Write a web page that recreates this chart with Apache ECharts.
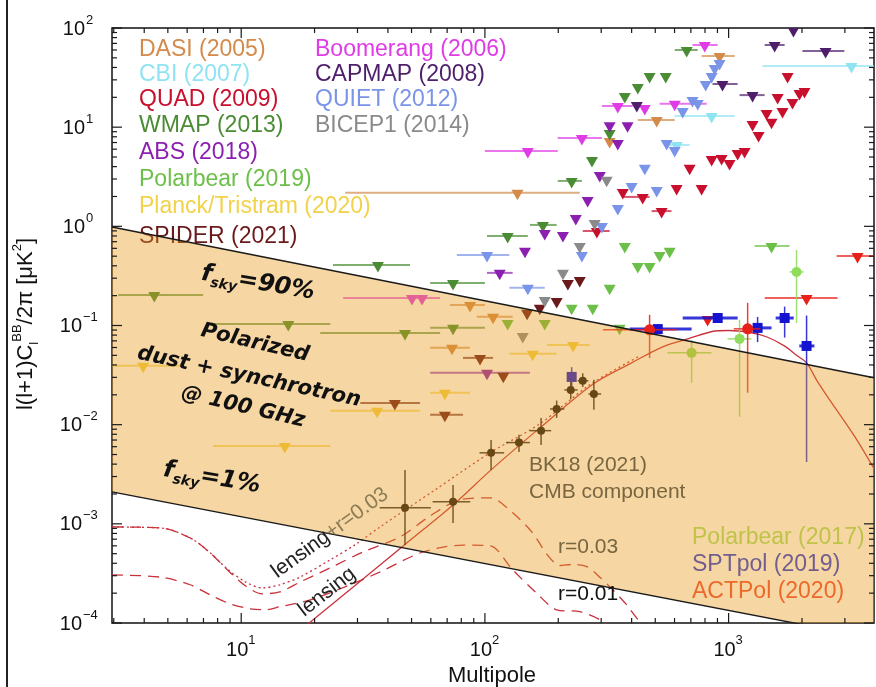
<!DOCTYPE html>
<html><head><meta charset="utf-8">
<script src="https://cdn.jsdelivr.net/npm/echarts@6/dist/echarts.min.js"></script>
<style>html,body{margin:0;padding:0;background:#fff}#c{width:876px;height:687px}</style>
</head><body><div id="c"></div>
<script>
// ---------------- axes ----------------
const X_MIN = 2.95, X_MAX = 3950, Y_MIN = 1e-4, Y_MAX = 100;
const xMajorTicks = [10, 100, 1000];
const xTickExp = ['1', '2', '3'];
const yMajorTicks = [1e-4, 1e-3, 1e-2, 1e-1, 1, 10, 100];
const yTickExp = ['\u22124', '\u22123', '\u22122', '\u22121', '0', '1', '2'];

// ---------------- foreground band (dust + synchrotron @100 GHz) ----------------
const bandEll = [2.95, 3950];
const bandUpper = [0.986, 0.0297];   // fsky = 90%
const bandLower = [0.0021, 0.00007]; // fsky = 1%

// ---------------- theory curves ----------------
const lensEll = [15, 19, 30, 47, 74, 106, 170, 280, 400, 536, 690, 856, 1000, 1222, 1430, 1700, 1900, 2090, 2300, 2590, 3280, 3950];
const lensVal = [6.2e-5, 1.0e-4, 2.5e-4, 6.2e-4, 1.55e-3, 3.5e-3, 9.5e-3, 0.026, 0.042, 0.061, 0.074, 0.087, 0.089, 0.085, 0.077, 0.062, 0.05, 0.042, 0.028, 0.018, 0.0077, 0.0036];

const lensR03Ell = [2.95, 4.66, 6.18, 7.46, 8.77, 10.4, 12.2, 14.4, 17.5, 23.2, 29.3, 37.2, 62.4, 105, 168, 269, 432];
const lensR03Val = [9.3e-4, 9.1e-4, 7.2e-4, 5.1e-4, 3.5e-4, 2.6e-4, 2.26e-4, 2.43e-4, 2.92e-4, 4.34e-4, 6.14e-4, 9.33e-4, 2.2e-3, 5.2e-3, 0.0102, 0.0252, 0.0494];

const r03Ell = [2.95, 4.66, 6.18, 7.46, 8.77, 10.4, 12.2, 14.4, 17.5, 23.2, 31.6, 44.9, 59.6, 79.1, 105, 130, 157, 180, 203, 230, 262, 296, 335, 382, 432, 521];
const r03Val = [9.3e-4, 9.1e-4, 7.2e-4, 5.1e-4, 3.44e-4, 2.37e-4, 1.97e-4, 2.06e-4, 2.6e-4, 3.6e-4, 5.2e-4, 7.4e-4, 1.2e-3, 1.75e-3, 1.83e-3, 1.29e-3, 8.1e-4, 4.9e-4, 3.8e-4, 3.9e-4, 3.7e-4, 2.9e-4, 2.16e-4, 1.52e-4, 1.03e-4, 6.8e-5];

const r01Ell = [2.95, 4.66, 6.18, 7.46, 9.02, 10.9, 12.5, 14.4, 19.2, 28.0, 37.2, 55.7, 81.3, 105, 130, 163, 197, 245, 296, 341];
const r01Val = [3.06e-4, 2.9e-4, 2.43e-4, 1.92e-4, 1.56e-4, 1.39e-4, 1.36e-4, 1.46e-4, 1.71e-4, 2.43e-4, 3.28e-4, 5.2e-4, 6.1e-4, 6.0e-4, 3.44e-4, 2.0e-4, 1.36e-4, 1.3e-4, 1.08e-4, 8.1e-5];

// ---------------- upper limits: [ell, value, ellLow, ellHigh] ----------------
const DASI = [[918, 49.9, 775, 1060], [507, 11.3, 424, 601], [136, 2.08, 26.7, 245], [325, 6.93], [86.9, 0.154, 71.9, 100], [108, 0.117, 92.6, 130], [73.3, 0.0568, 59.6, 86.9]];
const CBI = [[3193, 39.5, 1377, 4000], [852, 12.4, 601, 1060], [612, 6.31, 547, 692]];
const QUAD = [[1746, 31.3], [1589, 19.2], [1432, 13.3], [1254, 10.3], [1327, 7.96], [1954, 21.1], [2048, 22.1], [1829, 17.1], [1664, 13.9], [1500, 10.8], [1163, 5.5], [1089, 5.25], [1009, 4.16], [936, 4.67], [852, 4.56], [692, 3.71], [612, 2.33], [775, 2.33], [444, 1.89, 368, 474], [368, 2.12], [531, 1.36, 483, 583], [288, 0.857, 252, 325]];
const WMAP = [[673, 57.3, 601, 747], [474, 31.3], [552, 31.3], [424, 24.3], [375, 19.7], [325, 8.34], [275, 4.46], [227, 2.74, 199, 250], [173, 0.986, 153, 197], [124, 0.764, 102, 150], [36.4, 0.39, 23.8, 49.3], [74.0, 0.256, 59.6, 100], [4.40, 0.194, 3.13, 6.98], [15.6, 0.099, 7.67, 23.2], [47.0, 0.0804, 21.1, 65.5], [74.0, 0.0904, 59.6, 100]];
const ABS = [[325, 10.0], [385, 10.0], [351, 6.62], [296, 3.15], [264, 1.76], [236, 1.16], [176, 0.819], [209, 0.782], [146, 0.54], [115, 0.324, 102, 130], [102, 0.0318, 59.6, 153]];
const POLARBEAR19 = [[375, 0.605], [521, 0.492], [573, 0.54], [424, 0.381], [474, 0.381], [325, 0.229], [227, 0.144], [277, 0.144], [1500, 0.605, 1278, 1778], [124, 0.101], [176, 0.101], [357, 0.0904]];
const PLANCK = [[3.96, 0.0374, 2.96, 5.62], [36.1, 0.0132, 23.2, 54.2], [15.1, 5.83e-3, 7.67, 23.2], [230, 0.0608, 180, 269], [157, 0.0494, 126, 197], [68.5, 0.020, 59.6, 86.9]];
const SPIDER = [[219, 0.256], [245, 0.275], [197, 0.169], [168, 0.144], [149, 0.128], [95.5, 0.045, 81.3, 108], [119, 0.0297], [68.5, 0.012, 59.6, 81.3], [42.7, 0.0158, 30.8, 54.2]];
const BOOMERANG = [[798, 64.3, 711, 902], [601, 16.4, 521, 813], [453, 14.9], [351, 15.6, 302, 404], [250, 7.43, 199, 302], [150, 5.5, 100, 199], [50.2, 0.181, 26.2, 65.5], [55.2, 0.181]];
const CAPMAP = [[1845, 91.1], [1545, 64.3, 1406, 1698], [2500, 56.0, 2009, 2985], [944, 26.0, 859, 1089], [1254, 20.1, 1109, 1406], [420, 16.0]];
const QUIET = [[918, 42.4], [877, 37.8], [852, 31.3], [805, 26.0], [711, 17.9], [747, 16.7], [648, 13.9], [557, 6.62], [601, 5.62], [453, 3.71], [400, 2.44], [507, 2.22], [351, 1.46], [302, 0.964], [250, 0.492], [102, 0.492, 76.7, 126], [150, 0.229, 126, 176]];
const BICEP1 = [[316, 2.81], [282, 1.03], [245, 0.605], [209, 0.324], [176, 0.173], [143, 0.075]];
const ACTPOL_LIM = [[3381, 0.48, 2773, 4000], [2089, 0.181, 1406, 2800], [820, 0.111]];

// ---------------- detections: [ell, value, ellLow, ellHigh, valLow, valHigh] ----------------
const BK18 = [[47, 1.45e-3, 37, 60, 6.1e-4, 3.5e-3], [74, 1.67e-3, 61, 87, 1.02e-3, 2.47e-3], [106, 5.2e-3, 95, 120, 3.5e-3, 7.0e-3], [138, 6.6e-3, 122, 153, 5.3e-3, 7.9e-3], [170, 8.7e-3, 153, 187, 6.25e-3, 0.0117], [197, 0.0144, 185, 212, 0.0117, 0.0175], [225, 0.0224, 212, 240, 0.018, 0.027], [252, 0.0277, 240, 266, 0.024, 0.033], [280, 0.0204, 266, 300, 0.0141, 0.0283]];
const SPTPOL = [[512, 0.092, 393, 705, 0.082, 0.103], [902, 0.119, 648, 1089, 0.107, 0.132], [1315, 0.0946, 1170, 1500, 0.068, 0.122], [1698, 0.119, 1560, 1850, 0.0755, 0.155], [2089, 0.0622, 1950, 2250, 0.0042, 0.126], [227, 0.0303, null, null, 0.024, 0.038]];
const ACTPOL = [[474, 0.0904, 305, 612, 0.047, 0.128], [1197, 0.0925, 1050, 1350, 0.021, 0.169]];
const POLARBEAR17 = [[1900, 0.347, 1780, 2030, 0.106, 0.578], [1109, 0.0733, 990, 1240, 0.012, 0.114], [705, 0.053, 560, 850, 0.0264, 0.0714]];

// ---------------- styling ----------------
const FONT = '"Liberation Sans", Arial, Helvetica, sans-serif';
const HAND = '"DejaVu Sans", sans-serif';
const C = {
  DASI: '#d38a4a', CBI: '#8fe3f2', QUAD: '#c8102e', WMAP: '#4a8c34', ABS: '#8b1fb0',
  PB19: '#6cc04a', PLANCK: '#f2d24a', SPIDER: '#6a1a1a', BOOM: '#e03ce6', CAPMAP: '#4e1e6a',
  QUIET: '#7a94e8', BICEP1: '#8a8a8a', ACT: '#e8201a', SPT: '#1414d0', PB17: '#8edc5a', BK: '#111111'
};

const zip = (a, b) => a.map((v, i) => [v, b[i]]);
const ok = v => v != null && isFinite(v) && v > 0;

function limitSeries(rows, color) {
  return {
    type: 'custom', coordinateSystem: 'cartesian2d', clip: true, z: 2,
    data: rows.map(r => [r[0], r[1], r[2] == null ? null : r[2], r[3] == null ? null : r[3]]),
    encode: { x: 0, y: 1 },
    renderItem: (params, api) => {
      const x = api.value(0), y = api.value(1), lo = api.value(2), hi = api.value(3);
      const p = api.coord([x, y]);
      const ch = [];
      if (ok(lo) && ok(hi)) {
        const a = api.coord([lo, y]), b = api.coord([hi, y]);
        ch.push({ type: 'line', shape: { x1: a[0], y1: p[1] - 2, x2: b[0], y2: p[1] - 2 }, style: { stroke: color, lineWidth: 2, opacity: 0.7 } });
      }
      ch.push({ type: 'polygon', shape: { points: [[p[0] - 6, p[1] - 5], [p[0] + 6, p[1] - 5], [p[0], p[1] + 5.5]] }, style: { fill: color } });
      return { type: 'group', children: ch };
    }
  };
}

function detectSeries(rows, color, shape, size, barW) {
  return {
    type: 'custom', coordinateSystem: 'cartesian2d', clip: true, z: 3,
    data: rows.map(r => [r[0], r[1], r[2], r[3], r[4], r[5]]),
    encode: { x: 0, y: 1 },
    renderItem: (params, api) => {
      const x = api.value(0), y = api.value(1);
      const xl = api.value(2), xh = api.value(3), yl = api.value(4), yh = api.value(5);
      const p = api.coord([x, y]);
      const ch = [];
      if (ok(xl) && ok(xh)) {
        const a = api.coord([xl, y]), b = api.coord([xh, y]);
        ch.push({ type: 'line', shape: { x1: a[0], y1: p[1], x2: b[0], y2: p[1] }, style: { stroke: color, lineWidth: barW, opacity: 0.85 } });
      }
      if (ok(yl) && ok(yh)) {
        const a = api.coord([x, yl]), b = api.coord([x, yh]);
        ch.push({ type: 'line', shape: { x1: p[0], y1: a[1], x2: p[0], y2: b[1] }, style: { stroke: color, lineWidth: 1.5, opacity: 0.85 } });
      }
      if (shape === 'rect') ch.push({ type: 'rect', shape: { x: p[0] - size, y: p[1] - size, width: 2 * size, height: 2 * size }, style: { fill: color } });
      else ch.push({ type: 'circle', shape: { cx: p[0], cy: p[1], r: size }, style: { fill: color } });
      return { type: 'group', children: ch };
    }
  };
}

function curve(ell, val, color, type, width) {
  return {
    type: 'line', data: zip(ell, val), symbol: 'none', smooth: 0.3, z: 2, clip: true,
    lineStyle: { color: color, width: width, type: type }, silent: true
  };
}

// axis ticks + labels drawn with the axes' own coordinate mapping
const xMinor = [], yMinor = [];
[1, 10, 100, 1000].forEach(d => { for (let m = 2; m <= 9; m++) { const v = m * d; if (v > X_MIN && v < X_MAX) xMinor.push(v); } });
[1e-4, 1e-3, 1e-2, 1e-1, 1, 10].forEach(d => { for (let m = 2; m <= 9; m++) yMinor.push(m * d); });

const axesSeries = {
  type: 'custom', coordinateSystem: 'cartesian2d', clip: false, z: 30, silent: true,
  data: [[10, 1]],
  renderItem: (params, api) => {
    const ch = [];
    const yb = api.coord([X_MIN, Y_MIN])[1], yt = api.coord([X_MIN, Y_MAX])[1];
    const xl = api.coord([X_MIN, Y_MIN])[0], xr = api.coord([X_MAX, Y_MIN])[0];
    const st = { stroke: '#1a1a1a', lineWidth: 1.2 };
    const L = (x1, y1, x2, y2) => ch.push({ type: 'line', shape: { x1, y1, x2, y2 }, style: st });
    xMajorTicks.forEach((v, i) => {
      const x = api.coord([v, Y_MIN])[0];
      L(x, yb, x, yb - 10); L(x, yt, x, yt + 10);
      ch.push({ type: 'text', x: x - 4, y: yb + 27, style: { text: '10', fill: '#111', fontSize: 20, fontFamily: FONT, align: 'center', verticalAlign: 'middle' } });
      ch.push({ type: 'text', x: x + 7, y: yb + 17, style: { text: xTickExp[i], fill: '#111', fontSize: 13, fontFamily: FONT, align: 'left', verticalAlign: 'middle' } });
    });
    xMinor.forEach(v => { const x = api.coord([v, Y_MIN])[0]; L(x, yb, x, yb - 5); L(x, yt, x, yt + 5); });
    yMajorTicks.forEach((v, i) => {
      const y = api.coord([X_MIN, v])[1];
      L(xl, y, xl + 10, y); L(xr, y, xr - 10, y);
      const neg = yTickExp[i].length > 1;
      ch.push({ type: 'text', x: neg ? 82 : 85, y: y + 1, style: { text: '10', fill: '#111', fontSize: 20, fontFamily: FONT, align: 'right', verticalAlign: 'middle' } });
      ch.push({ type: 'text', x: neg ? 83 : 86, y: y - 8, style: { text: yTickExp[i], fill: '#111', fontSize: 13, fontFamily: FONT, align: 'left', verticalAlign: 'middle' } });
    });
    yMinor.forEach(v => { const y = api.coord([X_MIN, v])[1]; L(xl, y, xl + 5, y); L(xr, y, xr - 5, y); });
    return { type: 'group', children: ch };
  }
};

const bandSeries = {
  type: 'custom', coordinateSystem: 'cartesian2d', clip: true, z: 6, silent: true,
  data: [[bandEll[0], bandUpper[0]]],
  renderItem: (params, api) => {
    const pts = [
      api.coord([bandEll[0], bandUpper[0]]), api.coord([bandEll[1], bandUpper[1]]),
      api.coord([bandEll[1], bandLower[1]]), api.coord([bandEll[0], bandLower[0]])
    ];
    return { type: 'polygon', shape: { points: pts }, style: { fill: 'rgba(232,152,24,0.40)' } };
  }
};

function edge(vals) {
  return { type: 'line', data: zip(bandEll, vals), symbol: 'none', z: 7, clip: true, silent: true, lineStyle: { color: '#1a1a1a', width: 1.4 } };
}

const legendRows = [
  ['DASI (2005)', C.DASI, 139, 50], ['CBI (2007)', C.CBI, 139, 75], ['QUAD (2009)', C.QUAD, 139, 100],
  ['WMAP (2013)', C.WMAP, 139, 126], ['ABS (2018)', C.ABS, 139, 153], ['Polarbear (2019)', C.PB19, 139, 180],
  ['Planck/Tristram (2020)', C.PLANCK, 139, 207], ['SPIDER (2021)', C.SPIDER, 139, 237],
  ['Boomerang (2006)', C.BOOM, 315, 50], ['CAPMAP (2008)', C.CAPMAP, 315, 75], ['QUIET (2012)', C.QUIET, 315, 100],
  ['BICEP1 (2014)', C.BICEP1, 315, 126],
  ['Polarbear (2017)', '#a4e06a', 692, 538], ['SPTpol (2019)', '#2438dc', 692, 565], ['ACTPol (2020)', '#ee4a36', 692, 592]
];

const graphics = legendRows.map(r => ({
  type: 'text', x: r[2], y: r[3], z: 1,
  style: { text: r[0], fill: r[1], fontSize: 23, fontFamily: FONT, verticalAlign: 'middle', align: 'left' }
}));

const handRich = {
  f: { fontSize: 24, fontWeight: 'bold', fontStyle: 'italic', fontFamily: HAND, fill: '#111', lineHeight: 30 },
  s: { fontSize: 14, fontWeight: 'bold', fontStyle: 'italic', fontFamily: HAND, fill: '#111', verticalAlign: 'bottom', lineHeight: 30 }
};
graphics.push(
  { type: 'text', x: 258, y: 283, z: 40, rotation: -0.17, style: { text: '{f|f}{s|sky}{f|=90%}', rich: handRich, align: 'center', verticalAlign: 'middle' } },
  { type: 'text', x: 212, y: 478, z: 40, rotation: -0.17, style: { text: '{f|f}{s|sky}{f|=1%}', rich: handRich, align: 'center', verticalAlign: 'middle' } },
  { type: 'text', x: 255, y: 343, z: 40, rotation: -0.23, style: { text: 'Polarized', fill: '#111', fontSize: 21, fontWeight: 'bold', fontStyle: 'italic', fontFamily: HAND, align: 'center', verticalAlign: 'middle' } },
  { type: 'text', x: 249, y: 377, z: 40, rotation: -0.21, style: { text: 'dust + synchrotron', fill: '#111', fontSize: 21, fontWeight: 'bold', fontStyle: 'italic', fontFamily: HAND, align: 'center', verticalAlign: 'middle' } },
  { type: 'text', x: 243, y: 407, z: 40, rotation: -0.23, style: { text: '@ 100 GHz', fill: '#111', fontSize: 21, fontWeight: 'bold', fontStyle: 'italic', fontFamily: HAND, align: 'center', verticalAlign: 'middle' } },
  { type: 'text', x: 529, y: 465, z: 40, style: { text: 'BK18 (2021)', fill: '#786640', fontSize: 21, fontFamily: FONT, verticalAlign: 'middle' } },
  { type: 'text', x: 529, y: 492, z: 40, style: { text: 'CMB component', fill: '#786640', fontSize: 21, fontFamily: FONT, verticalAlign: 'middle' } },
  { type: 'text', x: 558, y: 547, z: 40, style: { text: 'r=0.03', fill: '#786640', fontSize: 21, fontFamily: FONT, verticalAlign: 'middle' } },
  { type: 'text', x: 558, y: 594, z: 40, style: { text: 'r=0.01', fill: '#111', fontSize: 21, fontFamily: FONT, verticalAlign: 'middle' } },
  { type: 'text', x: 330, y: 533, z: 40, rotation: 0.63, style: { text: '{k|lensing}{o|+r=0.03}', rich: { k: { fill: '#222', fontSize: 21, fontFamily: FONT }, o: { fill: '#8c7d55', fontSize: 21, fontFamily: FONT } }, align: 'center', verticalAlign: 'middle' } },
  { type: 'text', x: 327, y: 592, z: 40, rotation: 0.66, style: { text: 'lensing', fill: '#222', fontSize: 21, fontFamily: FONT, align: 'center', verticalAlign: 'middle' } },
  { type: 'text', x: 492, y: 676, z: 40, style: { text: 'Multipole', fill: '#111', fontSize: 22, fontFamily: FONT, align: 'center', verticalAlign: 'middle' } },
  { type: 'text', x: 26, y: 324, z: 40, rotation: Math.PI / 2, style: {
      text: '{m|l(l+1)C}{sb|l}{sp|BB}{m|/2\u03c0 [\u03bcK}{sp|2}{m|]}',
      rich: {
        m: { fontSize: 22, fontFamily: FONT, fill: '#111', lineHeight: 30 },
        sb: { fontSize: 13, fontFamily: FONT, fill: '#111', verticalAlign: 'bottom', lineHeight: 30 },
        sp: { fontSize: 13, fontFamily: FONT, fill: '#111', verticalAlign: 'top', lineHeight: 30 }
      }, align: 'center', verticalAlign: 'middle' } },
  { type: 'line', z: 40, shape: { x1: 7, y1: 0, x2: 7, y2: 687 }, style: { stroke: '#222', lineWidth: 2 } }
);

const option = {
  backgroundColor: '#ffffff',
  animation: false,
  grid: { left: 112, right: 2, top: 28, bottom: 64, show: true, borderColor: '#111', borderWidth: 1.5, backgroundColor: 'transparent' },
  xAxis: { type: 'log', logBase: 10, min: X_MIN, max: X_MAX, axisLine: { show: false }, axisTick: { show: false }, axisLabel: { show: false }, splitLine: { show: false } },
  yAxis: { type: 'log', logBase: 10, min: Y_MIN, max: Y_MAX, axisLine: { show: false }, axisTick: { show: false }, axisLabel: { show: false }, splitLine: { show: false } },
  graphic: graphics,
  series: [
    curve(r01Ell, r01Val, '#c8323c', [11, 7], 1.3),
    curve(r03Ell, r03Val, '#c8323c', [11, 7], 1.3),
    curve(lensR03Ell, lensR03Val, '#c8323c', [2, 3], 1.3),
    curve(lensEll, lensVal, '#c8323c', 'solid', 1.3),
    limitSeries(DASI, C.DASI), limitSeries(CBI, C.CBI), limitSeries(QUAD, C.QUAD),
    limitSeries(WMAP, C.WMAP), limitSeries(ABS, C.ABS), limitSeries(POLARBEAR19, C.PB19),
    limitSeries(PLANCK, C.PLANCK), limitSeries(SPIDER, C.SPIDER), limitSeries(BOOMERANG, C.BOOM),
    limitSeries(CAPMAP, C.CAPMAP), limitSeries(QUIET, C.QUIET), limitSeries(BICEP1, C.BICEP1),
    limitSeries(ACTPOL_LIM, C.ACT),
    detectSeries(POLARBEAR17, C.PB17, 'circle', 5, 1.5),
    detectSeries(SPTPOL, C.SPT, 'rect', 5, 3),
    detectSeries(ACTPOL, C.ACT, 'circle', 5.5, 1.5),
    detectSeries(BK18, C.BK, 'circle', 4, 1.5),
    bandSeries,
    edge(bandUpper), edge(bandLower),
    axesSeries
  ]
};
const chart = echarts.init(document.getElementById('c'));
chart.setOption(option);
</script></body></html>
